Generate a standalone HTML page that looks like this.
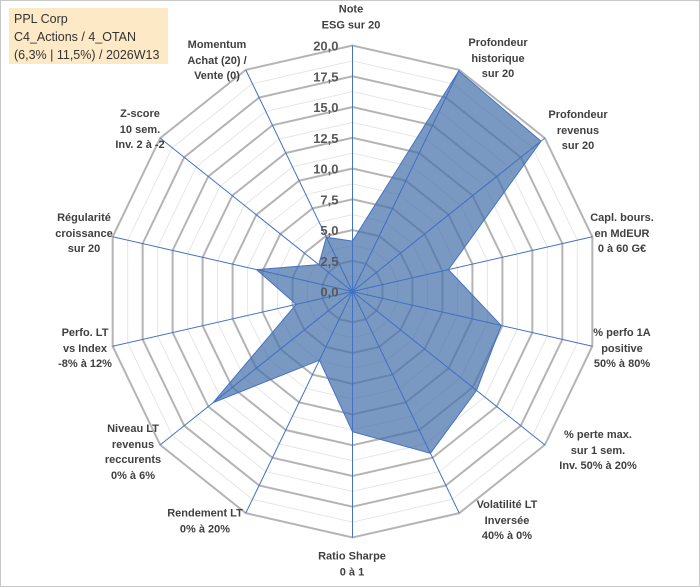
<!DOCTYPE html>
<html><head><meta charset="utf-8"><style>
body{margin:0;background:#fff;}
#wrap{position:relative;width:700px;height:587px;overflow:hidden;font-family:"Liberation Sans",sans-serif;}
#frame{position:absolute;left:0;top:0;width:698px;height:585px;border:1px solid #c8c8c8;}
.lbl{position:absolute;transform:translate(-50%,-50%);text-align:center;font-size:11px;font-weight:bold;color:#404040;line-height:15.5px;white-space:nowrap;}
#title{position:absolute;left:9px;top:8px;width:159px;height:56px;background:#fde9c6;font-size:12.5px;color:#333;line-height:18px;padding:2px 0 0 5px;box-sizing:border-box;}
</style></head><body>
<div id="wrap">
<div id="frame"></div>
<svg id="svg" width="700" height="587" style="position:absolute;left:0;top:0"></svg>
<div id="title">PPL Corp<br>C4_Actions / 4_OTAN<br>(6,3% | 11,5%) / 2026W13</div>
<div id="labels"></div>
</div>
<script>
const categories=["Note<br>ESG sur 20","Profondeur<br>historique<br>sur 20","Profondeur<br>revenus<br>sur 20","Capl. bours.<br>en MdEUR<br>0 à 60 G€","% perfo 1A<br>positive<br>50% à 80%","% perte max.<br>sur 1 sem.<br>Inv. 50% à 20%","Volatilité LT<br>Inversée<br>40% à 0%","Ratio Sharpe<br>0 à 1","Rendement LT<br>0% à 20%","Niveau LT<br>revenus<br>reccurents<br>0% à 6%","Perfo. LT<br>vs Index<br>-8% à 12%","Régularité<br>croissance<br>sur 20","Z-score<br>10 sem.<br>Inv. 2 à -2","Momentum<br>Achat (20) /<br>Vente (0)"];
const values=[4.1,19.9,19.6,8.0,12.4,12.9,14.6,11.4,6.2,14.5,4.7,8.0,3.5,4.9];
const ticks=[0,2.5,5,7.5,10,12.5,15,17.5,20];
const tickLabels=["0,0","2,5","5,0","7,5","10,0","12,5","15,0","17,5","20,0"];
const labelPos=[[351,18],[498,59],[578,131],[622,234],[622,349],[598,451],[507,521],[352,565],[205,522],[133,453],[85,349],[84,234],[140,130],[217,61]];
const cx=352.5,cy=291.5,R=246,maxV=20;
const NS="http://www.w3.org/2000/svg";
const svg=document.getElementById('svg');
const n=categories.length;
function ang(i){return -Math.PI/2+i*2*Math.PI/n;}
function pt(i,v){const r=v/maxV*R;return [cx+r*Math.cos(ang(i)),cy+r*Math.sin(ang(i))];}
function mk(t,a){const e=document.createElementNS(NS,t);for(const k in a)e.setAttribute(k,a[k]);svg.appendChild(e);return e;}
// minor rings
for(let v=1.25;v<=maxV;v+=2.5){
 const p=mk('polygon',{points:categories.map((c,i)=>pt(i,v).join(',')).join(' '),fill:'none',stroke:'#e6e6e6','stroke-width':1});
 
 
}
ticks.forEach(v=>{if(v===0)return;
 const p=mk('polygon',{points:categories.map((c,i)=>pt(i,v).join(',')).join(' '),fill:'none',stroke:'#b4b4b4','stroke-width':2});
 
 
});
categories.forEach((c,i)=>{const e=pt(i,maxV);
 const l=mk('line',{x1:cx,y1:cy,x2:e[0],y2:e[1],stroke:'#4472c4','stroke-width':1});
 
 
});
const area=mk('polygon',{points:values.map((v,i)=>pt(i,v).join(',')).join(' '),fill:'rgba(70,114,170,0.72)',stroke:'#4472c4','stroke-width':1});


values.forEach((v,i)=>{const p=pt(i,v);
 const l=mk('line',{x1:cx,y1:cy,x2:p[0],y2:p[1],stroke:'#4472c4','stroke-width':0.8});
 
 
});
ticks.forEach((v,k)=>{
 const t=mk('text',{x:cx-14,y:cy-v/maxV*R+5,'text-anchor':'end','font-size':'13','font-weight':'bold',fill:'#595959','font-family':'Liberation Sans, sans-serif'});
 t.textContent=tickLabels[k];
 
 
});
const lw=document.getElementById('labels');
categories.forEach((c,i)=>{const d=document.createElement('div');d.className='lbl';
 d.innerHTML=c;d.style.left=labelPos[i][0]+'px';d.style.top=labelPos[i][1]+'px';
 
 
 lw.appendChild(d);});
</script>
</body></html>
